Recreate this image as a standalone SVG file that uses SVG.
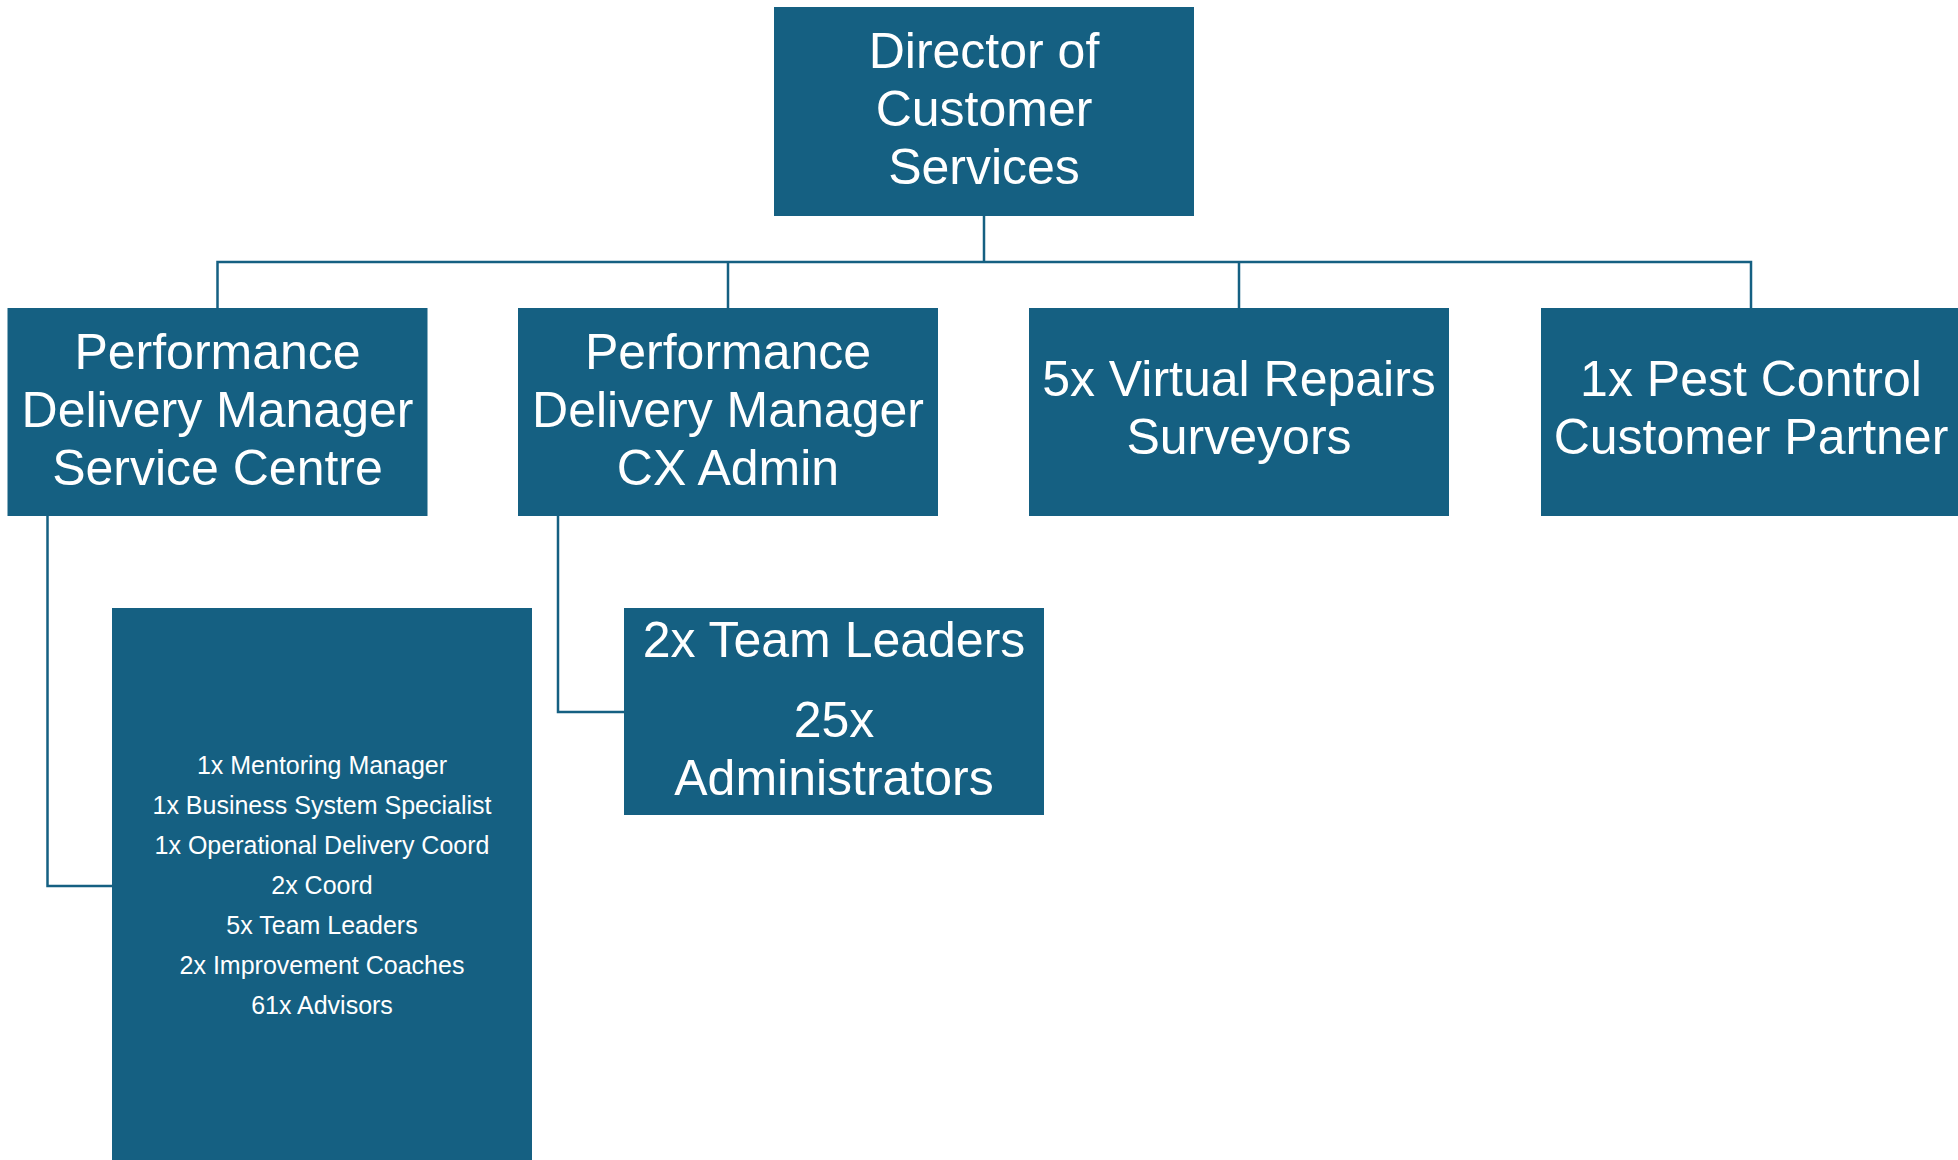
<svg xmlns="http://www.w3.org/2000/svg" width="1958" height="1160" viewBox="0 0 1958 1160">
<style>
.box{fill:#156082}
.t{fill:#ffffff;font-family:"Liberation Sans","Open Sans",Arial,sans-serif;font-size:50px;text-anchor:middle}
.s{fill:#ffffff;font-family:"Liberation Sans","Open Sans",Arial,sans-serif;font-size:25px;text-anchor:middle}
.c{fill:none;stroke:#156082;stroke-width:2.5}
</style>
<rect width="1958" height="1160" fill="#ffffff"/>
<g id="connectors">
<path class="c" d="M984 216V262M217.5 308V262H1751V308M728 262V308M1239 262V308"/>
<path class="c" d="M47.5 516V886H112"/>
<path class="c" d="M558 516V712H624"/>
</g>
<g id="director">
<rect class="box" x="774" y="7" width="420" height="209"/>
<text class="t" x="984" y="68">Director of</text>
<text class="t" x="984" y="126">Customer</text>
<text class="t" x="984" y="184">Services</text>
</g>
<g id="pdm-service-centre">
<rect class="box" x="7.5" y="308" width="420" height="208"/>
<text class="t" x="217.5" y="369">Performance</text>
<text class="t" x="217.5" y="427">Delivery Manager</text>
<text class="t" x="217.5" y="485">Service Centre</text>
</g>
<g id="pdm-cx-admin">
<rect class="box" x="518" y="308" width="420" height="208"/>
<text class="t" x="728" y="369">Performance</text>
<text class="t" x="728" y="427">Delivery Manager</text>
<text class="t" x="728" y="485">CX Admin</text>
</g>
<g id="virtual-repairs">
<rect class="box" x="1029" y="308" width="420" height="208"/>
<text class="t" x="1239" y="396">5x Virtual Repairs</text>
<text class="t" x="1239" y="454">Surveyors</text>
</g>
<g id="pest-control">
<rect class="box" x="1541" y="308" width="420" height="208"/>
<text class="t" x="1751" y="396">1x Pest Control</text>
<text class="t" x="1751" y="454">Customer Partner</text>
</g>
<g id="service-centre-team">
<rect class="box" x="112" y="608" width="420" height="560"/>
<text class="s" x="322" y="774">1x Mentoring Manager</text>
<text class="s" x="322" y="814">1x Business System Specialist</text>
<text class="s" x="322" y="854">1x Operational Delivery Coord</text>
<text class="s" x="322" y="894">2x Coord</text>
<text class="s" x="322" y="934">5x Team Leaders</text>
<text class="s" x="322" y="974">2x Improvement Coaches</text>
<text class="s" x="322" y="1014">61x Advisors</text>
</g>
<g id="cx-admin-team">
<rect class="box" x="624" y="608" width="420" height="207"/>
<text class="t" x="834" y="657">2x Team Leaders</text>
<text class="t" x="834" y="737">25x</text>
<text class="t" x="834" y="795">Administrators</text>
</g>
</svg>
